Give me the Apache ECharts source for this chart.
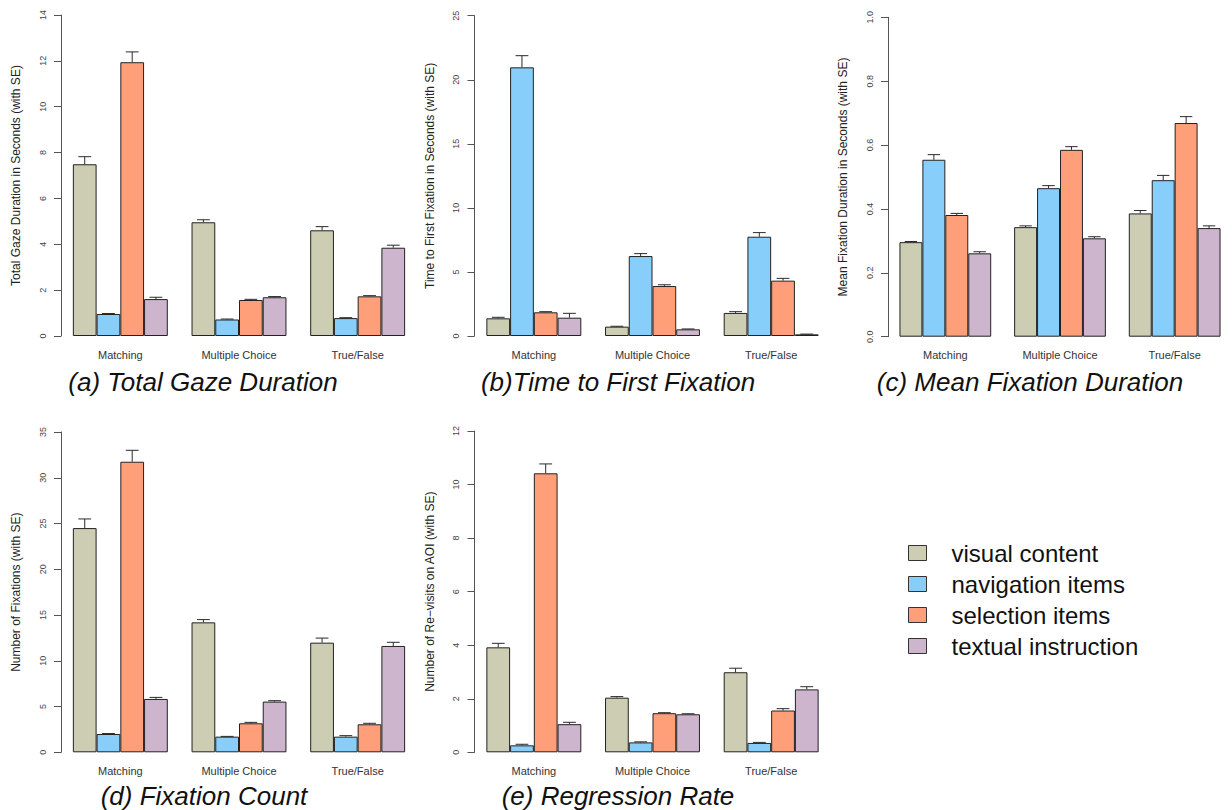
<!DOCTYPE html>
<html>
<head>
<meta charset="utf-8">
<script src="https://cdn.jsdelivr.net/npm/echarts@6/dist/echarts.min.js"></script>
<style>
html,body{margin:0;padding:0;background:#fff;}
#chart{width:1232px;height:810px;}
</style>
</head>
<body>
<div id="chart"></div>
<script>
// ---------- DATA ----------
const categories = ['Matching', 'Multiple Choice', 'True/False'];
const seriesNames = ['visual content', 'navigation items', 'selection items', 'textual instruction'];

// (a) Total Gaze Duration (seconds)
const gazeVisual = [7.49, 4.96, 4.61];
const gazeNav    = [0.96, 0.72, 0.78];
const gazeSel    = [11.94, 1.57, 1.73];
const gazeText   = [1.61, 1.69, 3.85];
const gazeVisualSE = [0.33, 0.11, 0.16];
const gazeNavSE    = [0.02, 0.02, 0.02];
const gazeSelSE    = [0.45, 0.03, 0.03];
const gazeTextSE   = [0.08, 0.03, 0.11];

// (b) Time to First Fixation (seconds)
const ttffVisual = [1.38, 0.73, 1.80];
const ttffNav    = [20.97, 6.24, 7.75];
const ttffSel    = [1.85, 3.90, 4.32];
const ttffText   = [1.43, 0.52, 0.13];
const ttffVisualSE = [0.08, 0.03, 0.10];
const ttffNavSE    = [0.91, 0.19, 0.32];
const ttffSelSE    = [0.05, 0.10, 0.18];
const ttffTextSE   = [0.34, 0.03, 0.02];

// (c) Mean Fixation Duration (seconds)
const mfdVisual = [0.296, 0.343, 0.386];
const mfdNav    = [0.554, 0.465, 0.490];
const mfdSel    = [0.381, 0.585, 0.669];
const mfdText   = [0.261, 0.308, 0.340];
const mfdVisualSE = [0.002, 0.004, 0.009];
const mfdNavSE    = [0.016, 0.008, 0.015];
const mfdSelSE    = [0.005, 0.010, 0.020];
const mfdTextSE   = [0.005, 0.005, 0.007];

// (d) Fixation Count
const fcVisual = [24.5, 14.2, 11.98];
const fcNav    = [2.0, 1.71, 1.71];
const fcSel    = [31.75, 3.17, 3.06];
const fcText   = [5.83, 5.54, 11.62];
const fcVisualSE = [1.0, 0.3, 0.5];
const fcNavSE    = [0.05, 0.03, 0.11];
const fcSelSE    = [1.25, 0.10, 0.11];
const fcTextSE   = [0.17, 0.10, 0.40];

// (e) Regression Rate (re-visits on AOI)
const rrVisual = [3.92, 2.04, 2.99];
const rrNav    = [0.26, 0.37, 0.35];
const rrSel    = [10.42, 1.46, 1.56];
const rrText   = [1.05, 1.42, 2.35];
const rrVisualSE = [0.15, 0.04, 0.15];
const rrNavSE    = [0.04, 0.02, 0.02];
const rrSelSE    = [0.35, 0.02, 0.07];
const rrTextSE   = [0.07, 0.02, 0.10];

// axis ticks
const yMaxA = 14, yStepA = 2;
const yMaxB = 25, yStepB = 5;
const yMaxC = 1.0, yStepC = 0.2;
const yMaxD = 35, yStepD = 5;
const yMaxE = 12, yStepE = 2;

const panelTitles = ['(a) Total Gaze Duration', '(b)Time to First Fixation', '(c) Mean Fixation Duration', '(d) Fixation Count', '(e) Regression Rate'];
const yTitles = ['Total Gaze Duration in Seconds (with SE)', 'Time to First Fixation in Seconds (with SE)', 'Mean Fixation Duration in Seconds (with SE)', 'Number of Fixations (with SE)', 'Number of Re\u2212visits on AOI (with SE)'];

// ---------- STYLE / LAYOUT ----------
const colors = ['#CDCDB4', '#87CEFA', '#FF9F7A', '#CDB5CD'];
const FONT = 'Liberation Sans, Arial, Helvetica, sans-serif';

const panels = [
  {means: [gazeVisual, gazeNav, gazeSel, gazeText], ses: [gazeVisualSE, gazeNavSE, gazeSelSE, gazeTextSE], max: yMaxA, step: yStepA, dec: 0,
   grid: {left: 61, top: 15, width: 356, height: 321}, title: [203, 382, 'middle']},
  {means: [ttffVisual, ttffNav, ttffSel, ttffText], ses: [ttffVisualSE, ttffNavSE, ttffSelSE, ttffTextSE], max: yMaxB, step: yStepB, dec: 0,
   grid: {left: 474.5, top: 15.7, width: 356, height: 320.3}, title: [618, 382, 'middle']},
  {means: [mfdVisual, mfdNav, mfdSel, mfdText], ses: [mfdVisualSE, mfdNavSE, mfdSelSE, mfdTextSE], max: yMaxC, step: yStepC, dec: 1,
   grid: {left: 888, top: 17.3, width: 356, height: 319.4}, title: [1030, 382, 'middle']},
  {means: [fcVisual, fcNav, fcSel, fcText], ses: [fcVisualSE, fcNavSE, fcSelSE, fcTextSE], max: yMaxD, step: yStepD, dec: 0,
   grid: {left: 61, top: 432, width: 356, height: 320.3}, title: [204, 809, 'bottom']},
  {means: [rrVisual, rrNav, rrSel, rrText], ses: [rrVisualSE, rrNavSE, rrSelSE, rrTextSE], max: yMaxE, step: yStepE, dec: 0,
   grid: {left: 474.5, top: 431, width: 356, height: 321.3}, title: [618, 809, 'bottom']}
];

const BAR_FRACTION = 0.8; // bars fill 80% of category band (R space = 1 bar width)

function renderErr(params, api) {
  const c = api.value(0), m = api.value(1), t = api.value(2), s = api.value(3);
  const p0 = api.coord([c, m]);
  const p1 = api.coord([c, t]);
  const band = api.size([1, 0])[0];
  const bw = band * BAR_FRACTION / 4;
  const x = p0[0] + (s - 1.5) * bw;
  const hw = bw * 0.27;
  const st = {stroke: '#2a2a2a', lineWidth: 1};
  return {type: 'group', children: [
    {type: 'line', shape: {x1: x, y1: p0[1], x2: x, y2: p1[1]}, style: st},
    {type: 'line', shape: {x1: x - hw, y1: p1[1], x2: x + hw, y2: p1[1]}, style: st}
  ]};
}

const grids = [], xAxes = [], yAxes = [], series = [], graphics = [];
panels.forEach((p, i) => {
  grids.push(Object.assign({containLabel: false}, p.grid));
  xAxes.push({
    type: 'category', gridIndex: i, data: categories,
    axisLine: {show: false}, axisTick: {show: false},
    axisLabel: {fontFamily: FONT, fontSize: 11, color: '#333', margin: 13, interval: 0}
  });
  yAxes.push({
    type: 'value', gridIndex: i, min: 0, max: p.max, interval: p.step,
    splitLine: {show: false},
    axisLine: {show: true, lineStyle: {color: '#555', width: 1}},
    axisTick: {show: true, length: 7, lineStyle: {color: '#555'}},
    axisLabel: {fontFamily: FONT, fontSize: 9, color: '#444', rotate: 90, margin: 14,
      formatter: v => Number(v).toFixed(p.dec)},
    name: yTitles[i], nameLocation: 'middle', nameRotate: 90, nameGap: 39,
    nameTextStyle: {fontFamily: FONT, fontSize: 12, color: '#222'}
  });
  p.means.forEach((arr, s) => {
    series.push({
      type: 'bar', name: seriesNames[s], xAxisIndex: i, yAxisIndex: i,
      data: arr, barGap: 0, barCategoryGap: '20%',
      itemStyle: {color: colors[s], borderColor: '#222', borderWidth: 1},
      emphasis: {disabled: true}, animation: false
    });
  });
  const errData = [];
  p.means.forEach((arr, s) => {
    arr.forEach((m, c) => errData.push([c, m, m + p.ses[s][c], s]));
  });
  series.push({
    type: 'custom', xAxisIndex: i, yAxisIndex: i, renderItem: renderErr,
    data: errData, encode: {x: 0, y: [1, 2]}, z: 5, silent: true, animation: false
  });
  graphics.push({
    type: 'text', x: p.title[0], y: p.title[1],
    style: {text: panelTitles[i], font: 'italic 26px ' + FONT, fill: '#111',
      textAlign: 'center', textVerticalAlign: p.title[2]}
  });
});

const chart = echarts.init(document.getElementById('chart'), null, {renderer: 'svg', width: 1232, height: 810});
chart.setOption({
  backgroundColor: '#fff',
  animation: false,
  color: colors,
  grid: grids,
  xAxis: xAxes,
  yAxis: yAxes,
  series: series,
  graphic: graphics,
  legend: {
    data: seriesNames, orient: 'vertical', left: 903, top: 536,
    itemWidth: 18, itemHeight: 15, itemGap: 7, icon: 'rect',
    selectedMode: false,
    itemStyle: {borderColor: '#333', borderWidth: 1},
    textStyle: {fontFamily: FONT, fontSize: 24, color: '#111', padding: [0, 0, 0, 20]}
  }
});
</script>
</body>
</html>
